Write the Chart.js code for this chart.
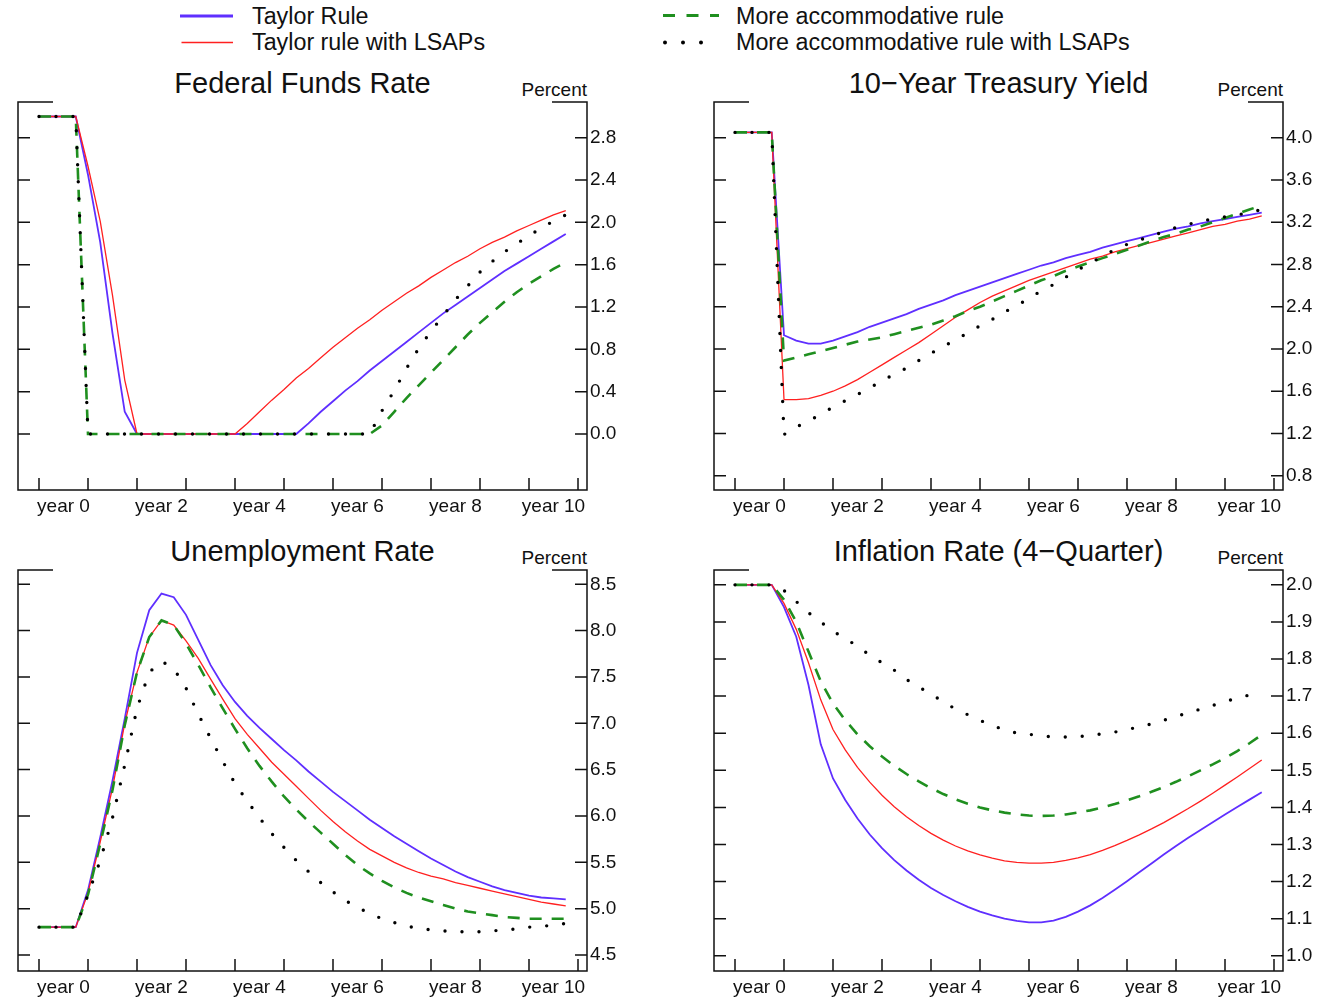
<!DOCTYPE html>
<html><head><meta charset="utf-8">
<script src="https://cdn.jsdelivr.net/npm/chart.js@4.4.1/dist/chart.umd.min.js"></script>
<style>
html,body{margin:0;padding:0;background:#fff;overflow:hidden;}
body{width:1319px;height:998px;position:relative;font-family:"Liberation Sans",Arial,sans-serif;color:#111;}
canvas{position:absolute;}
.t{position:absolute;font-size:29px;line-height:32px;white-space:nowrap;text-align:center;width:600px;}
.p{position:absolute;font-size:19px;line-height:20px;white-space:nowrap;text-align:right;width:120px;}
.lg{position:absolute;font-size:23.3px;line-height:26px;white-space:nowrap;}
svg{position:absolute;left:0;top:0;}
</style></head><body>
<svg width="1319" height="60">
 <line x1="180" y1="16" x2="233" y2="16" stroke="#5f2fff" stroke-width="3"/>
 <line x1="181.5" y1="42.5" x2="233" y2="42.5" stroke="#ff2020" stroke-width="1.5"/>
 <line x1="663" y1="15.5" x2="719" y2="15.5" stroke="#1f8f1f" stroke-width="3" stroke-dasharray="12 11.5"/>
 <circle cx="665" cy="42.5" r="2" fill="#000"/>
 <circle cx="683" cy="42.5" r="2" fill="#000"/>
 <circle cx="701" cy="42.5" r="2" fill="#000"/>
</svg>
<div class="lg" style="left:252px;top:3px">Taylor Rule</div>
<div class="lg" style="left:252px;top:29px">Taylor rule with LSAPs</div>
<div class="lg" style="left:736px;top:3px">More accommodative rule</div>
<div class="lg" style="left:736px;top:29px">More accommodative rule with LSAPs</div>

<div class="t" style="left:2.5px;top:67px">Federal Funds Rate</div>
<div class="t" style="left:698.5px;top:67px">10−Year Treasury Yield</div>
<div class="t" style="left:2.5px;top:535px">Unemployment Rate</div>
<div class="t" style="left:698.5px;top:535px">Inflation Rate (4−Quarter)</div>
<div class="p" style="left:467px;top:80.4px">Percent</div>
<div class="p" style="left:1163px;top:80.4px">Percent</div>
<div class="p" style="left:467px;top:548.4px">Percent</div>
<div class="p" style="left:1163px;top:548.4px">Percent</div>

<canvas id="c1" width="620" height="440" style="left:0px;top:95px"></canvas>
<canvas id="c2" width="620" height="440" style="left:696px;top:95px"></canvas>
<canvas id="c3" width="620" height="435" style="left:0px;top:563px"></canvas>
<canvas id="c4" width="620" height="435" style="left:696px;top:563px"></canvas>

<script>
// ---- shared axis data ----
const seriesNames = ['Taylor Rule', 'Taylor rule with LSAPs', 'More accommodative rule', 'More accommodative rule with LSAPs'];
const yearTickMarks = [0,1,2,3,4,5,6,7,8,9,10,11];
const xLabelPos = [0.5, 2.5, 4.5, 6.5, 8.5, 10.5];
const xTickLabels = ['year 0', 'year 2', 'year 4', 'year 6', 'year 8', 'year 10'];

// ---- Federal Funds Rate ----
const ffrTaylor = [3.0,3.0,3.0,3.0,2.45,1.81,0.95,0.21,0,0,0,0,0,0,0,0,0,0,0,0,0,0,0.10,0.21,0.31,0.41,0.50,0.60,0.69,0.78,0.87,0.96,1.05,1.14,1.22,1.30,1.38,1.46,1.54,1.61,1.68,1.75,1.82,1.89];
const ffrTaylorLSAP = [3.0,3.0,3.0,3.0,2.53,2.01,1.31,0.51,0,0,0,0,0,0,0,0,0,0.10,0.21,0.32,0.42,0.53,0.62,0.72,0.82,0.91,1.00,1.08,1.17,1.25,1.33,1.40,1.48,1.55,1.62,1.68,1.75,1.81,1.86,1.92,1.97,2.02,2.07,2.11];
const ffrAccom = [3.0,3.0,3.0,3.0,0,0,0,0,0,0,0,0,0,0,0,0,0,0,0,0,0,0,0,0,0,0,0,0,0.08,0.21,0.34,0.46,0.58,0.70,0.82,0.94,1.05,1.15,1.25,1.34,1.42,1.49,1.56,1.62];
const ffrAccomLSAP = [3.0,3.0,3.0,3.0,0,0,0,0,0,0,0,0,0,0,0,0,0,0,0,0,0,0,0,0,0,0,0,0,0.22,0.41,0.62,0.81,0.97,1.12,1.27,1.40,1.53,1.63,1.72,1.80,1.87,1.95,2.01,2.07];
const ffrTicks = [0.0,0.4,0.8,1.2,1.6,2.0,2.4,2.8];

// ---- 10-Year Treasury Yield ----
const tsyTaylor = [4.05,4.05,4.05,4.05,2.13,2.08,2.05,2.05,2.08,2.12,2.16,2.21,2.25,2.29,2.33,2.38,2.42,2.46,2.51,2.55,2.59,2.63,2.67,2.71,2.75,2.79,2.82,2.86,2.89,2.92,2.96,2.99,3.02,3.05,3.08,3.11,3.14,3.16,3.19,3.21,3.23,3.25,3.27,3.29];
const tsyTaylorLSAP = [4.05,4.05,4.05,4.05,1.52,1.52,1.53,1.56,1.60,1.65,1.71,1.78,1.85,1.92,1.99,2.06,2.14,2.22,2.30,2.37,2.44,2.50,2.55,2.60,2.65,2.69,2.73,2.77,2.81,2.85,2.88,2.92,2.95,2.98,3.01,3.04,3.07,3.10,3.13,3.16,3.18,3.21,3.23,3.26];
const tsyAccom = [4.05,4.05,4.05,4.05,1.89,1.92,1.95,1.98,2.01,2.04,2.07,2.09,2.11,2.14,2.17,2.20,2.23,2.27,2.31,2.36,2.40,2.45,2.50,2.55,2.60,2.65,2.69,2.74,2.78,2.82,2.86,2.90,2.94,2.98,3.02,3.06,3.09,3.13,3.16,3.20,3.24,3.28,3.32,3.36];
const tsyAccomLSAP = [4.05,4.05,4.05,4.05,1.19,1.26,1.32,1.38,1.45,1.51,1.57,1.63,1.70,1.76,1.82,1.89,1.96,2.02,2.09,2.15,2.22,2.28,2.35,2.41,2.48,2.55,2.61,2.68,2.75,2.81,2.88,2.94,2.99,3.03,3.07,3.11,3.15,3.18,3.21,3.23,3.25,3.27,3.29,3.32];
const tsyTicks = [0.8,1.2,1.6,2.0,2.4,2.8,3.2,3.6,4.0];

// ---- Unemployment Rate ----
const unTaylor = [4.8,4.8,4.8,4.8,5.20,5.77,6.38,7.05,7.76,8.22,8.40,8.36,8.17,7.90,7.63,7.41,7.23,7.08,6.95,6.83,6.71,6.60,6.48,6.37,6.26,6.16,6.06,5.96,5.87,5.78,5.70,5.62,5.54,5.47,5.40,5.34,5.29,5.24,5.20,5.17,5.14,5.12,5.11,5.10];
const unTaylorLSAP = [4.8,4.8,4.8,4.8,5.17,5.72,6.30,7.00,7.55,7.93,8.11,8.06,7.89,7.70,7.48,7.26,7.05,6.88,6.73,6.58,6.45,6.32,6.19,6.06,5.94,5.83,5.73,5.64,5.57,5.50,5.44,5.39,5.35,5.32,5.28,5.25,5.22,5.19,5.16,5.13,5.10,5.07,5.05,5.03];
const unAccom = [4.8,4.8,4.8,4.8,5.15,5.70,6.28,6.98,7.55,7.93,8.11,8.06,7.86,7.63,7.39,7.16,6.94,6.73,6.54,6.37,6.21,6.07,5.94,5.82,5.70,5.58,5.47,5.38,5.30,5.23,5.17,5.12,5.08,5.04,5.00,4.97,4.95,4.93,4.91,4.90,4.89,4.89,4.89,4.89];
const unAccomLSAP = [4.8,4.8,4.8,4.8,5.15,5.52,5.98,6.55,7.16,7.55,7.67,7.59,7.38,7.10,6.84,6.59,6.35,6.16,5.98,5.81,5.66,5.52,5.40,5.28,5.18,5.09,5.01,4.95,4.89,4.85,4.81,4.79,4.77,4.76,4.75,4.75,4.75,4.76,4.77,4.78,4.80,4.81,4.82,4.84];
const unTicks = [4.5,5.0,5.5,6.0,6.5,7.0,7.5,8.0,8.5];

// ---- Inflation Rate (4-Quarter) ----
const infTaylor = [2.0,2.0,2.0,2.0,1.94,1.86,1.73,1.57,1.478,1.420,1.370,1.327,1.290,1.258,1.230,1.205,1.183,1.164,1.147,1.132,1.119,1.109,1.100,1.094,1.090,1.090,1.095,1.105,1.119,1.136,1.156,1.178,1.201,1.225,1.249,1.273,1.296,1.318,1.339,1.360,1.381,1.401,1.421,1.441];
const infTaylorLSAP = [2.0,2.0,2.0,2.0,1.95,1.88,1.79,1.69,1.61,1.555,1.508,1.468,1.433,1.402,1.375,1.351,1.330,1.312,1.296,1.283,1.272,1.263,1.256,1.252,1.250,1.250,1.252,1.257,1.264,1.273,1.284,1.297,1.311,1.326,1.342,1.359,1.378,1.397,1.417,1.438,1.460,1.482,1.505,1.528];
const infAccom = [2.0,2.0,2.0,2.0,1.96,1.90,1.82,1.74,1.68,1.635,1.597,1.565,1.537,1.512,1.490,1.470,1.452,1.436,1.422,1.410,1.400,1.392,1.386,1.381,1.378,1.377,1.378,1.381,1.386,1.392,1.400,1.409,1.419,1.430,1.442,1.455,1.469,1.484,1.500,1.516,1.533,1.552,1.573,1.596];
const infAccomLSAP = [2.0,2.0,2.0,2.0,1.985,1.955,1.925,1.90,1.875,1.855,1.835,1.81,1.79,1.77,1.745,1.725,1.705,1.685,1.665,1.65,1.635,1.62,1.61,1.60,1.597,1.593,1.59,1.59,1.59,1.595,1.598,1.603,1.61,1.617,1.625,1.635,1.645,1.655,1.665,1.675,1.685,1.695,1.703,1.71];
const infTicks = [1.0,1.1,1.2,1.3,1.4,1.5,1.6,1.7,1.8,1.9,2.0];

// ---- styling ----
const FONT = '"Liberation Sans", Arial, sans-serif';
const styles = [
  {borderColor:'#5f2fff', borderWidth:1.8, order:3},
  {borderColor:'#ff2020', borderWidth:1.3, order:2},
  {borderColor:'#1f8f1f', borderWidth:2.6, borderDash:[12,10], order:1},
  {borderColor:'#000000', borderWidth:3.4, borderDash:[0,17], borderCapStyle:'round', order:0}
];

const framePlugin = {
  id: 'frame',
  afterDraw(chart) {
    const ctx = chart.ctx;
    const {left, right, top, bottom} = chart.chartArea;
    const x = chart.scales.x, y = chart.scales.y;
    ctx.save();
    ctx.strokeStyle = '#111';
    ctx.lineWidth = 1.5;
    ctx.beginPath();
    ctx.moveTo(left + 35, top); ctx.lineTo(left, top); ctx.lineTo(left, bottom);
    ctx.lineTo(right, bottom); ctx.lineTo(right, top); ctx.lineTo(right - 35, top);
    y.ticks.forEach(t => {
      const py = y.getPixelForValue(t.value);
      ctx.moveTo(left, py); ctx.lineTo(left + 12, py);
      ctx.moveTo(right, py); ctx.lineTo(right - 12, py);
    });
    yearTickMarks.forEach(v => {
      const px = x.getPixelForValue(v);
      ctx.moveTo(px, bottom); ctx.lineTo(px, bottom - 12);
    });
    ctx.stroke();
    ctx.restore();
  }
};

function makeChart(id, series, yMin, yMax, yTicks, pad) {
  const datasets = series.map((vals, k) => Object.assign({
    label: seriesNames[k],
    data: vals.map((v, i) => ({x: i / 4, y: v})),
    pointRadius: 0, tension: 0, fill: false
  }, styles[k]));
  return new Chart(document.getElementById(id), {
    type: 'line',
    data: {datasets},
    plugins: [framePlugin],
    options: {
      responsive: false, animation: false, devicePixelRatio: 1,
      layout: {padding: pad, autoPadding: false},
      plugins: {legend: {display: false}, title: {display: false}, tooltip: {enabled: false}},
      scales: {
        x: {
          type: 'linear', min: -21/49, max: 11 + 9/49,
          grid: {display: false, drawTicks: false}, border: {display: false},
          afterBuildTicks: s => { s.ticks = xLabelPos.map(v => ({value: v})); },
          afterFit: s => { s.height = 26; s.paddingLeft = 0; s.paddingRight = 0; },
          ticks: {
            autoSkip: false, maxRotation: 0, padding: 5, color: '#111',
            font: {family: FONT, size: 19},
            callback: (v, i) => xTickLabels[i]
          }
        },
        y: {
          type: 'linear', position: 'right', min: yMin, max: yMax,
          grid: {display: false, drawTicks: false}, border: {display: false},
          afterBuildTicks: s => { s.ticks = yTicks.map(v => ({value: v})); },
          afterFit: s => { s.width = 32; s.paddingTop = 0; s.paddingBottom = 0; },
          ticks: {
            autoSkip: false, padding: 3, color: '#111',
            font: {family: FONT, size: 19},
            callback: v => Number(v).toFixed(1)
          }
        }
      }
    }
  });
}

makeChart('c1', [ffrTaylor, ffrTaylorLSAP, ffrAccom, ffrAccomLSAP], -0.529, 3.137, ffrTicks, {left:18, right:1, top:7, bottom:19});
makeChart('c2', [tsyTaylor, tsyTaylorLSAP, tsyAccom, tsyAccomLSAP], 0.665, 4.338, tsyTicks, {left:18, right:1, top:7, bottom:19});
makeChart('c3', [unTaylor, unTaylorLSAP, unAccom, unAccomLSAP], 4.327, 8.654, unTicks, {left:18, right:1, top:7, bottom:1});
makeChart('c4', [infTaylor, infTaylorLSAP, infAccom, infAccomLSAP], 0.959, 2.040, infTicks, {left:18, right:1, top:7, bottom:1});
</script>
</body></html>
